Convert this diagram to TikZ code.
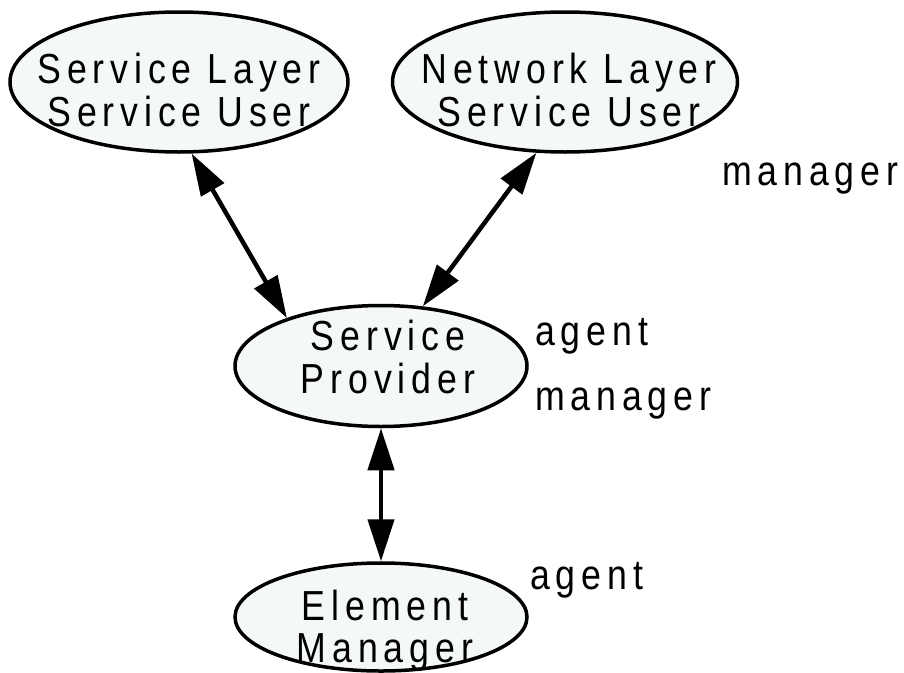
\documentclass[tikz,border=0pt]{standalone}
\usepackage{fontspec}
\setmainfont{Liberation Sans}[FakeStretch=0.85, LetterSpace=14]
\usetikzlibrary{shapes.geometric,arrows.meta}
\definecolor{nodefill}{HTML}{F4F9F6}
\newcommand\zbox[1]{\makebox[0pt]{\smash{\begin{tabular}{@{}c@{}}#1\end{tabular}}}}
\tikzset{
  ell/.style={ellipse, draw=black, line width=3.5pt, fill=nodefill, inner sep=0pt},
  dbl/.style={line width=4.5pt, {Triangle[length=42pt,width=26pt]}-{Triangle[length=42pt,width=26pt]}},
  lbl/.style={anchor=base west, inner sep=0pt}
}
\begin{document}
\begin{tikzpicture}[x=1pt,y=-1pt]
\useasboundingbox (0,0) rectangle (904,672);
\fontsize{42}{42}\selectfont
\node[ell, minimum width=338pt, minimum height=140pt] (slu) at (179,82) {};
\node[ell, minimum width=345pt, minimum height=140pt] (nlu) at (565,82) {};
\node[ell, minimum width=292pt, minimum height=121pt] (sp) at (381,366) {};
\node[ell, minimum width=292pt, minimum height=108pt] (em) at (381,617) {};
\node (tslu) at (179,102) {\zbox{Service Layer\\Service User}};
\node (tnlu) at (569,102) {\zbox{Network Layer\\Service User}};
\node (tsp) at (388,369) {\zbox{Service\\Provider}};
\node (tem) at (385,639) {\zbox{Element\\Manager}};
\draw[dbl] (slu.-80) -- (sp.153);
\draw[dbl] (nlu.-112.7) -- (sp.55);
\draw[dbl] (sp.south) -- (em.north);
\node[lbl] (m1) at (722,185) {manager};
\node[lbl] (a1) at (535,345) {agent};
\node[lbl] (m2) at (535,410) {manager};
\node[lbl] (a2) at (530,589) {agent};
\end{tikzpicture}
\end{document}
